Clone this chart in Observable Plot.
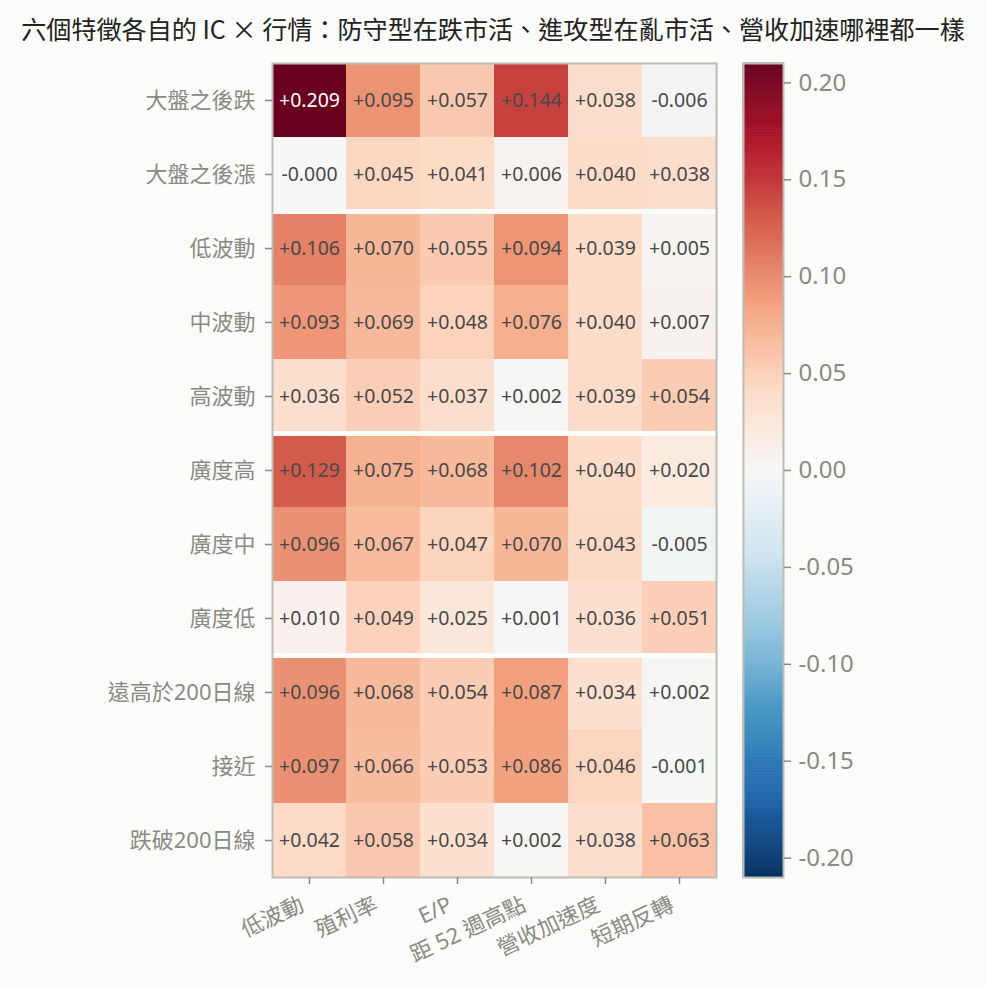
<!DOCTYPE html>
<html><head><meta charset="utf-8">
<script src="https://cdn.jsdelivr.net/npm/d3@7"></script>
<script src="https://cdn.jsdelivr.net/npm/@observablehq/plot@0.6"></script>
<style>
html,body{margin:0;padding:0;background:#fcfcfa;overflow:hidden;}
#wrap{position:relative;width:986px;height:987px;}
#title{position:absolute;left:0;top:11px;width:986px;text-align:center;font-family:"Noto Sans CJK TC","Noto Sans",sans-serif;font-size:25.1px;color:#222;line-height:34px;white-space:nowrap;}
#wrap svg{position:absolute;left:0;top:0;}
</style></head><body><div id="wrap"><div id="title">六個特徵各自的 IC × 行情：防守型在跌市活、進攻型在亂市活、營收加速哪裡都一樣</div></div>
<script>
// ---- data ----
const regimes = ["大盤之後跌","大盤之後漲","低波動","中波動","高波動","廣度高","廣度中","廣度低","遠高於200日線","接近","跌破200日線"];
const features = ["低波動","殖利率","E/P","距 52 週高點","營收加速度","短期反轉"];
const icMarketDown   = [0.209, 0.095, 0.057, 0.144, 0.038, -0.006];
const icMarketUp     = [-0.0004, 0.045, 0.041, 0.006, 0.040, 0.038];
const icLowVol       = [0.106, 0.070, 0.055, 0.094, 0.039, 0.005];
const icMidVol       = [0.093, 0.069, 0.048, 0.076, 0.040, 0.007];
const icHighVol      = [0.036, 0.052, 0.037, 0.002, 0.039, 0.054];
const icBreadthHigh  = [0.129, 0.075, 0.068, 0.102, 0.040, 0.020];
const icBreadthMid   = [0.096, 0.067, 0.047, 0.070, 0.043, -0.005];
const icBreadthLow   = [0.010, 0.049, 0.025, 0.001, 0.036, 0.051];
const icFarAbove200  = [0.096, 0.068, 0.054, 0.087, 0.034, 0.002];
const icNear200      = [0.097, 0.066, 0.053, 0.086, 0.046, -0.001];
const icBelow200     = [0.042, 0.058, 0.034, 0.002, 0.038, 0.063];
const groupStarts = ["低波動","廣度高","遠高於200日線"];
const colorbarTicks = [-0.20,-0.15,-0.10,-0.05,0.00,0.05,0.10,0.15,0.20];
const colorDomain = [-0.21, 0.21];

const rowsValues = [icMarketDown, icMarketUp, icLowVol, icMidVol, icHighVol, icBreadthHigh, icBreadthMid, icBreadthLow, icFarAbove200, icNear200, icBelow200];
const table = [];
regimes.forEach((r, i) => features.forEach((f, j) => table.push({regime: r, feature: f, ic: rowsValues[i][j]})));

// ---- style ----
const FONT = '"Noto Sans","Noto Sans CJK TC",sans-serif';
const W = 986, H = 987;
const M = {top: 63, bottom: 110, left: 272, right: 270};
const rowH = (H - M.top - M.bottom) / regimes.length;
const rdbu = ["#053061","#2166ac","#4393c3","#92c5de","#d1e5f0","#f7f7f7","#fddbc7","#f4a582","#d6604d","#b2182b","#67001f"];
const stops = rdbu.map((_, i) => colorDomain[0] + i * (colorDomain[1] - colorDomain[0]) / (rdbu.length - 1));
const colorScale = {type: "linear", domain: stops, range: rdbu, interpolate: "rgb", clamp: true};
const frameColor = "#bdbdb4", tickColor = "#8a8a84";
const fmt = v => (v < 0 ? "-" : "+") + Math.abs(v).toFixed(3);

const heat = Plot.plot({
  width: W, height: H,
  marginTop: M.top, marginBottom: M.bottom, marginLeft: M.left, marginRight: M.right,
  style: {background: "transparent", fontFamily: FONT, overflow: "visible"},
  x: {type: "band", domain: features, padding: 0},
  y: {type: "band", domain: regimes, padding: 0},
  color: colorScale,
  marks: [
    Plot.cell(table, {x: "feature", y: "regime", fill: "ic", inset: 0}),
    Plot.ruleY(groupStarts, {y: d => d, stroke: "white", strokeWidth: 5, dy: -rowH / 2}),
    Plot.text(table.filter(d => d.ic <= 0.16), {x: "feature", y: "regime", text: d => fmt(d.ic), fill: "#484848", fontSize: 19.5}),
    Plot.text(table.filter(d => d.ic > 0.16), {x: "feature", y: "regime", text: d => fmt(d.ic), fill: "white", fontSize: 19.5}),
    Plot.frame({stroke: frameColor, strokeWidth: 2}),
    Plot.axisY({tickSize: 7, tickPadding: 10, fontSize: 22, color: tickColor, label: null, strokeWidth: 1.5}),
    Plot.axisX({tickSize: 7, tickFormat: () => "", color: tickColor, label: null, strokeWidth: 1.5}),
    Plot.axisX({tickSize: 0, tickPadding: 26, dx: -7, tickRotate: -25, fontSize: 22, color: tickColor, label: null})
  ]
});

const nSteps = 400;
const step = (colorDomain[1] - colorDomain[0]) / nSteps;
const gradient = d3.range(nSteps).map(i => colorDomain[0] + i * step);
const bar = Plot.plot({
  width: W, height: H,
  marginTop: M.top, marginBottom: M.bottom, marginLeft: 743, marginRight: W - 783,
  style: {background: "transparent", fontFamily: FONT, overflow: "visible"},
  y: {domain: colorDomain},
  color: colorScale,
  marks: [
    Plot.rect(gradient, {y1: d => d, y2: d => d + step, fill: d => d + step / 2, stroke: d => d + step / 2, strokeWidth: 0.6}),
    Plot.frame({stroke: frameColor, strokeWidth: 2}),
    Plot.axisY({anchor: "right", ticks: colorbarTicks, tickFormat: d => d.toFixed(2), tickSize: 7, tickPadding: 8, fontSize: 24, color: tickColor, label: null, strokeWidth: 1.5})
  ]
});

document.getElementById("wrap").appendChild(heat);
document.getElementById("wrap").appendChild(bar);
</script>
</body></html>
